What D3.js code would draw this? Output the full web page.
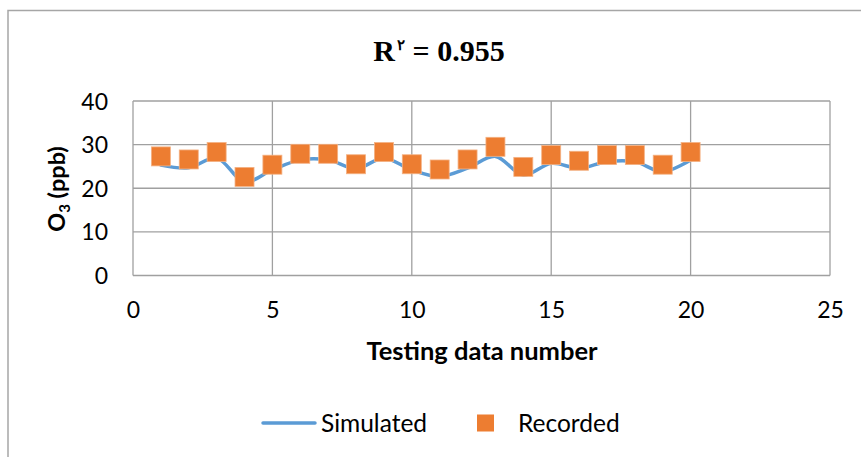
<!DOCTYPE html>
<html>
<head>
<meta charset="utf-8">
<script src="https://cdn.jsdelivr.net/npm/d3@7"></script>
<style>
  html, body { margin: 0; padding: 0; background: #fff; }
  svg { display: block; }
</style>
</head>
<body>
<script>
const testIndex = [1,2,3,4,5,6,7,8,9,10,11,12,13,14,15,16,17,18,19,20];
const recorded  = [27.3,26.6,28.3,22.6,25.4,27.9,27.9,25.5,28.3,25.5,24.3,26.6,29.5,24.9,27.6,26.3,27.6,27.6,25.4,28.3];
const simulated = [25.3,24.7,26.9,21.5,24.2,26.5,26.5,24.5,26.9,24.2,22.7,24.6,27.3,23.0,25.7,24.6,26.1,26.1,23.8,26.5];
const xTicks = [0,5,10,15,20,25];
const yTicks = [0,10,20,30,40];
const titleMain = "R";
const titleSup = "\u0662";
const titleRest = " = 0.955";
const xLabel = "Testing data number";
const seriesNames = ["Simulated", "Recorded"];

const W = 861, H = 457;
const svg = d3.select("body").append("svg").attr("width", W).attr("height", H);

// outer chart border
svg.append("rect").attr("x", 8).attr("y", 10.5).attr("width", 900).attr("height", 500)
  .attr("fill", "none").attr("stroke", "#a6a6a6").attr("stroke-width", 1.5);

const pLeft = 133, pRight = 830, pTop = 101, pBottom = 275.5;
const x = d3.scaleLinear().domain([0,25]).range([pLeft, pRight]);
const y = d3.scaleLinear().domain([0,40]).range([pBottom, pTop]);

const tickFont = "Lato, 'Open Sans', sans-serif";

// gridlines
const g = svg.append("g");
g.selectAll(".vg").data(xTicks).join("line")
  .attr("x1", d => x(d)).attr("x2", d => x(d)).attr("y1", pTop).attr("y2", pBottom)
  .attr("stroke", "#a0a0a0").attr("stroke-width", 1.3);
g.selectAll(".hg").data(yTicks).join("line")
  .attr("x1", pLeft).attr("x2", pRight).attr("y1", d => y(d)).attr("y2", d => y(d))
  .attr("stroke", "#a0a0a0").attr("stroke-width", 1.3);

// axes (labels only)
const xAxis = d3.axisBottom(x).tickValues(xTicks).tickSize(0).tickPadding(0);
const xa = svg.append("g").attr("transform", `translate(0,${pBottom + 26})`).call(xAxis);
xa.select(".domain").remove();
xa.selectAll("text").attr("font-family", tickFont).attr("font-size", 23)
  .attr("fill", "#000").attr("dy", "0.32em").attr("y", 9);

const yAxis = d3.axisLeft(y).tickValues(yTicks).tickSize(0).tickPadding(0);
const ya = svg.append("g").attr("transform", `translate(108,0)`).call(yAxis);
ya.select(".domain").remove();
ya.selectAll("text").attr("font-family", tickFont).attr("font-size", 23)
  .attr("fill", "#000").attr("dy", "0.35em");

// simulated line
const line = d3.line().x((d,i) => x(testIndex[i])).y(d => y(d)).curve(d3.curveCatmullRom.alpha(0.5));
svg.append("path").datum(simulated).attr("d", line)
  .attr("fill", "none").attr("stroke", "#5b9bd5").attr("stroke-width", 3.5)
  .attr("stroke-linejoin", "round").attr("stroke-linecap", "round");

// recorded markers
const ms = 19;
svg.selectAll(".rec").data(recorded).join("rect")
  .attr("x", (d,i) => x(testIndex[i]) - ms/2).attr("y", d => y(d) - ms/2)
  .attr("width", ms).attr("height", ms)
  .attr("fill", "#ed7d31").attr("stroke", "#f4b183").attr("stroke-width", 0.8);

// title
const tt = svg.append("text").attr("x", 439).attr("y", 61).attr("text-anchor", "middle")
  .attr("font-family", "'Liberation Serif', 'Times New Roman', serif").attr("font-weight", "bold")
  .attr("font-size", 30).attr("fill", "#000");
tt.append("tspan").text(titleMain);
tt.append("tspan").attr("font-size", 15).attr("dy", -11).attr("dx", 2).text(titleSup);
tt.append("tspan").attr("dy", 11).text(titleRest);

// x label
svg.append("text").attr("x", 482).attr("y", 351).attr("dy", "0.35em").attr("text-anchor", "middle")
  .attr("font-family", tickFont).attr("font-weight", "bold").attr("font-size", 25.5)
  .attr("fill", "#000").text(xLabel);

// y label
const yl = svg.append("text").attr("transform", "translate(57,189) rotate(-90)")
  .attr("text-anchor", "middle").attr("dy", "0.35em")
  .attr("font-family", tickFont).attr("font-weight", "bold").attr("font-size", 23.5).attr("fill", "#000");
yl.append("tspan").text("O");
yl.append("tspan").attr("font-size", 15).attr("dy", "0.35em").text("3");
yl.append("tspan").attr("dy", "-0.25em").text(" (ppb)");

// legend
const lg = svg.append("g");
lg.append("line").attr("x1", 263).attr("x2", 315).attr("y1", 423).attr("y2", 423)
  .attr("stroke", "#5b9bd5").attr("stroke-width", 3.5).attr("stroke-linecap", "round");
lg.append("text").attr("x", 321).attr("y", 423).attr("dy", "0.35em")
  .attr("font-family", tickFont).attr("font-size", 24.5).attr("fill", "#000").text(seriesNames[0]);
lg.append("rect").attr("x", 477).attr("y", 414.5).attr("width", 17).attr("height", 17).attr("fill", "#ed7d31");
lg.append("text").attr("x", 518).attr("y", 423).attr("dy", "0.35em")
  .attr("font-family", tickFont).attr("font-size", 24.5).attr("fill", "#000").text(seriesNames[1]);
</script>
</body>
</html>
